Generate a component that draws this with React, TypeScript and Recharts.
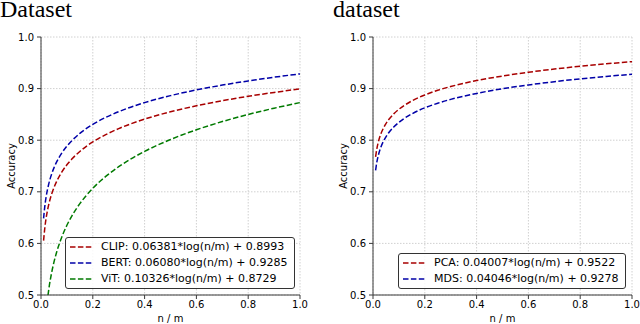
import { LineChart, Line, XAxis, YAxis, CartesianGrid, Legend } from 'recharts'

// n / m sample points
const xs = [0.01, 0.015, 0.02, 0.03, 0.04, 0.05, 0.06, 0.08, 0.1, 0.12, 0.15, 0.2, 0.25, 0.3, 0.4, 0.5, 0.6, 0.7, 0.8, 0.9, 1.0]

// left panel
const clip = [0.6054, 0.6313, 0.6497, 0.6755, 0.6939, 0.7081, 0.7198, 0.7381, 0.7524, 0.764, 0.7782, 0.7966, 0.8108, 0.8225, 0.8408, 0.8551, 0.8667, 0.8765, 0.8851, 0.8926, 0.8993]
const bert = [0.6485, 0.6732, 0.6907, 0.7153, 0.7328, 0.7464, 0.7574, 0.7749, 0.7885, 0.7996, 0.8132, 0.8307, 0.8442, 0.8553, 0.8728, 0.8864, 0.8974, 0.9068, 0.9149, 0.9221, 0.9285]
const vit = [null, null, 0.469, 0.5108, 0.5405, 0.5636, 0.5824, 0.6121, 0.6351, 0.654, 0.677, 0.7067, 0.7298, 0.7486, 0.7783, 0.8013, 0.8202, 0.8361, 0.8499, 0.862, 0.8729]

// right panel
const pca = [0.7677, 0.7839, 0.7955, 0.8117, 0.8232, 0.8322, 0.8395, 0.851, 0.8599, 0.8672, 0.8762, 0.8877, 0.8967, 0.904, 0.9155, 0.9244, 0.9317, 0.9379, 0.9433, 0.948, 0.9522]
const mds = [0.7415, 0.7579, 0.7695, 0.7859, 0.7976, 0.8066, 0.814, 0.8256, 0.8346, 0.842, 0.851, 0.8627, 0.8717, 0.8791, 0.8907, 0.8998, 0.9071, 0.9134, 0.9188, 0.9235, 0.9278]

const xTicks = [0, 0.2, 0.4, 0.6, 0.8, 1.0]
const yTicks = [0.5, 0.6, 0.7, 0.8, 0.9, 1.0]

const leftNames = ['CLIP: 0.06381*log(n/m) + 0.8993', 'BERT: 0.06080*log(n/m) + 0.9285', 'ViT: 0.10326*log(n/m) + 0.8729']
const rightNames = ['PCA: 0.04007*log(n/m) + 0.9522', 'MDS: 0.04046*log(n/m) + 0.9278']

const RED = '#a80000'
const BLUE = '#0000a8'
const GREEN = '#007a00'
const SPINE = '#3a3a3a'
const FONT = '"DejaVu Sans", sans-serif'

const leftData = xs.map((x, i) => ({ x, clip: clip[i], bert: bert[i], vit: vit[i] }))
const rightData = xs.map((x, i) => ({ x, pca: pca[i], mds: mds[i] }))

const tickStyle = { fontSize: 10, fill: '#000', fontFamily: FONT }
const titleStyle = { position: 'absolute' as const, top: 0, fontFamily: '"Liberation Serif", serif', fontSize: 24, lineHeight: '18px' }

// matplotlib-like legend box, kept in series order
function LegendBox({ names, colors }: { names: string[]; colors: string[] }) {
  return (
    <div
      style={{
        border: '1px solid #333',
        borderRadius: 3,
        background: 'rgba(255,255,255,0.85)',
        padding: '1px 6px 1px 4px',
        fontFamily: FONT,
        fontSize: 11,
        color: '#000',
      }}
    >
      {names.map((n, i) => (
        <div key={n} style={{ display: 'flex', alignItems: 'center', height: 16, lineHeight: '16px' }}>
          <svg width={22} height={4} style={{ marginRight: 9, display: 'block' }}>
            <line x1={0} y1={2} x2={22} y2={2} stroke={colors[i]} strokeWidth={1.5} strokeDasharray="5.5 2.4" />
          </svg>
          <span style={{ whiteSpace: 'nowrap' }}>{n}</span>
        </div>
      ))}
    </div>
  )
}

function yLabel(cx: number) {
  return (props: any) => {
    const vb = props.viewBox || {}
    const cy = (vb.y ?? 37) + (vb.height ?? 258) / 2
    return (
      <text
        x={cx}
        y={cy}
        transform={`rotate(-90 ${cx} ${cy})`}
        textAnchor="middle"
        dominantBaseline="central"
        style={{ fontSize: 10, fontFamily: FONT, fill: '#000' }}
      >
        Accuracy
      </text>
    )
  }
}

function Panel({
  data,
  series,
  names,
  colors,
  yWidth,
  rightMargin,
  labelX,
  legendPos,
}: {
  data: any[]
  series: string[]
  names: string[]
  colors: string[]
  yWidth: number
  rightMargin: number
  labelX: number
  legendPos: { left: number; top: number; width: number }
}) {
  return (
    <LineChart width={320} height={324} data={data} margin={{ top: 37, right: rightMargin, bottom: 0, left: 0 }}>
      <CartesianGrid stroke="#d0d0d0" strokeDasharray="1.5 1.5" />
      <XAxis
        dataKey="x"
        type="number"
        domain={[0, 1]}
        ticks={xTicks}
        tickFormatter={(v: number) => v.toFixed(1)}
        tick={tickStyle}
        tickSize={4}
        tickMargin={2}
        height={29}
        stroke={SPINE}
        label={{ value: 'n / m', position: 'insideBottom', offset: 2, style: { fontSize: 10, fontFamily: FONT, fill: '#000' } }}
      />
      <YAxis
        type="number"
        domain={[0.5, 1]}
        allowDataOverflow
        ticks={yTicks}
        tickFormatter={(v: number) => v.toFixed(1)}
        tick={tickStyle}
        tickSize={4}
        tickMargin={3}
        width={yWidth}
        stroke={SPINE}
        label={yLabel(labelX)}
      />
      <XAxis xAxisId="top" orientation="top" type="number" domain={[0, 1]} tick={false} tickLine={false} height={0} stroke={SPINE} />
      <YAxis yAxisId="right" orientation="right" type="number" domain={[0.5, 1]} tick={false} tickLine={false} width={0} stroke={SPINE} />
      {series.map((key, i) => (
        <Line
          key={key}
          dataKey={key}
          name={names[i]}
          type="monotone"
          stroke={colors[i]}
          strokeWidth={1.5}
          strokeDasharray="5.5 2.4"
          dot={false}
          isAnimationActive={false}
        />
      ))}
      <Legend
        layout="vertical"
        align="center"
        verticalAlign="middle"
        content={() => <LegendBox names={names} colors={colors} />}
        wrapperStyle={{ left: legendPos.left, top: legendPos.top, width: legendPos.width, bottom: 'auto', right: 'auto' }}
      />
    </LineChart>
  )
}

export default function App() {
  return (
    <div style={{ position: 'absolute', left: 0, top: 0, width: 640, height: 324, background: '#fff', overflow: 'hidden' }}>
      <div style={{ ...titleStyle, left: 0 }}>Dataset</div>
      <div style={{ ...titleStyle, left: 333 }}>dataset</div>
      <div style={{ position: 'absolute', left: 0, top: 0 }}>
        <Panel
          data={leftData}
          series={['clip', 'bert', 'vit']}
          names={leftNames}
          colors={[RED, BLUE, GREEN]}
          yWidth={41}
          rightMargin={20}
          labelX={11}
          legendPos={{ left: 65, top: 237, width: 230 }}
        />
      </div>
      <div style={{ position: 'absolute', left: 320, top: 0 }}>
        <Panel
          data={rightData}
          series={['pca', 'mds']}
          names={rightNames}
          colors={[RED, BLUE]}
          yWidth={53}
          rightMargin={8}
          labelX={23}
          legendPos={{ left: 78, top: 253, width: 228 }}
        />
      </div>
    </div>
  )
}
